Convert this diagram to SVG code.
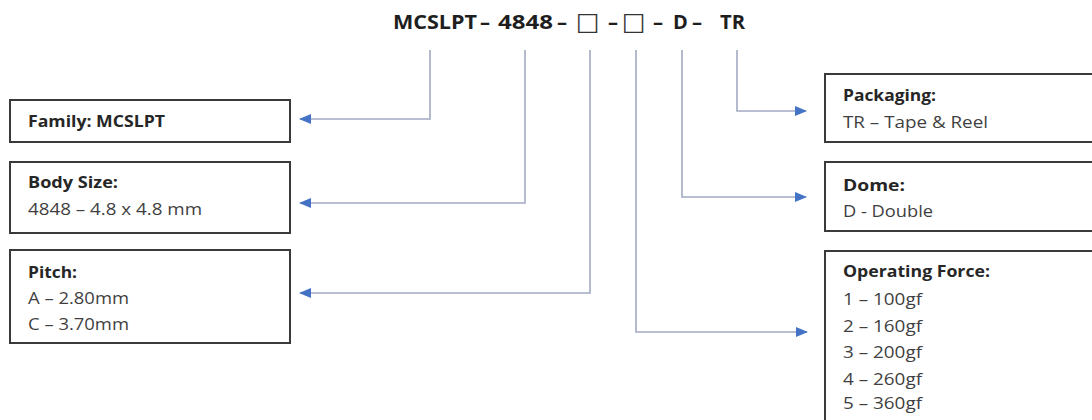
<svg xmlns="http://www.w3.org/2000/svg" width="1092" height="420" viewBox="0 0 1092 420">
  <style>
    .box { fill: #ffffff; stroke: #3a3a3a; stroke-width: 2; }
    .b { font-family: "Open Sans", "Liberation Sans", sans-serif; font-weight: bold; font-size: 16px; fill: #262626; }
    .t { font-family: "Open Sans", "Liberation Sans", sans-serif; font-size: 16px; fill: #3f3f3f; }
    .title { font-family: "Open Sans", "Liberation Sans", sans-serif; font-weight: bold; font-size: 20px; fill: #1e1e1e; }
    .sq { font-family: "DejaVu Sans", sans-serif; font-weight: normal; font-size: 25px; fill: #333333; }
    .conn { fill: none; stroke: #a3abc2; stroke-width: 1.6; }
  </style>
  <defs>
    <marker id="arr" viewBox="0 0 12 10" refX="11" refY="5" markerWidth="12" markerHeight="10" markerUnits="userSpaceOnUse" orient="auto">
      <path d="M0,0 L12,5 L0,10 Z" fill="#4472c4"/>
    </marker>
  </defs>
  <rect width="1092" height="420" fill="#ffffff"/>

  <text id="title" class="title" y="29"><tspan x="393" textLength="84" lengthAdjust="spacingAndGlyphs">MCSLPT</tspan> <tspan x="480">–</tspan> <tspan x="498" textLength="55" lengthAdjust="spacingAndGlyphs">4848</tspan> <tspan x="557">–</tspan> <tspan class="sq" x="576" y="30">□</tspan> <tspan x="608" y="29">–</tspan> <tspan class="sq" x="622" y="30">□</tspan> <tspan x="653" y="29">–</tspan> <tspan x="673">D</tspan> <tspan x="692">–</tspan>  <tspan x="720" textLength="25" lengthAdjust="spacingAndGlyphs">TR</tspan></text>

  <g id="connectors">
    <polyline class="conn" points="430,50 430,119 300,119" marker-end="url(#arr)"/>
    <polyline class="conn" points="525,50 525,203 300,203" marker-end="url(#arr)"/>
    <polyline class="conn" points="590,50 590,293 300,293" marker-end="url(#arr)"/>
    <polyline class="conn" points="737,50 737,111 806,111" marker-end="url(#arr)"/>
    <polyline class="conn" points="682,50 682,197 806,197" marker-end="url(#arr)"/>
    <polyline class="conn" points="636,50 636,332 807,332" marker-end="url(#arr)"/>
  </g>

  <g id="family">
    <rect class="box" x="10" y="100" width="280" height="42"/>
    <text class="b" x="28" y="127" textLength="137" lengthAdjust="spacingAndGlyphs">Family: MCSLPT</text>
  </g>
  <g id="body-size">
    <rect class="box" x="10" y="162" width="280" height="71"/>
    <text class="b" x="28" y="188" textLength="90" lengthAdjust="spacingAndGlyphs">Body Size:</text>
    <text class="t" x="28" y="215" textLength="174" lengthAdjust="spacingAndGlyphs">4848 – 4.8 x 4.8 mm</text>
  </g>
  <g id="pitch">
    <rect class="box" x="10" y="250" width="280" height="93"/>
    <text class="b" x="28" y="278" textLength="49" lengthAdjust="spacingAndGlyphs">Pitch:</text>
    <text class="t" x="28" y="304" textLength="101" lengthAdjust="spacingAndGlyphs">A – 2.80mm</text>
    <text class="t" x="28" y="330" textLength="101" lengthAdjust="spacingAndGlyphs">C – 3.70mm</text>
  </g>
  <g id="packaging">
    <rect class="box" x="825" y="74" width="280" height="68"/>
    <text class="b" x="843" y="101" textLength="93" lengthAdjust="spacingAndGlyphs">Packaging:</text>
    <text class="t" x="843" y="128" textLength="145" lengthAdjust="spacingAndGlyphs">TR – Tape &amp; Reel</text>
  </g>
  <g id="dome">
    <rect class="box" x="825" y="162" width="280" height="69"/>
    <text class="b" x="843" y="191" textLength="62" lengthAdjust="spacingAndGlyphs">Dome:</text>
    <text class="t" x="843" y="217" textLength="90" lengthAdjust="spacingAndGlyphs">D - Double</text>
  </g>
  <g id="operating-force">
    <rect class="box" x="825" y="251" width="280" height="180"/>
    <text class="b" x="843" y="277" textLength="147" lengthAdjust="spacingAndGlyphs">Operating Force:</text>
    <text class="t" x="843" y="305" textLength="79" lengthAdjust="spacingAndGlyphs">1 – 100gf</text>
    <text class="t" x="843" y="332" textLength="79" lengthAdjust="spacingAndGlyphs">2 – 160gf</text>
    <text class="t" x="843" y="358" textLength="79" lengthAdjust="spacingAndGlyphs">3 – 200gf</text>
    <text class="t" x="843" y="385" textLength="79" lengthAdjust="spacingAndGlyphs">4 – 260gf</text>
    <text class="t" x="843" y="409" textLength="79" lengthAdjust="spacingAndGlyphs">5 – 360gf</text>
  </g>
</svg>
